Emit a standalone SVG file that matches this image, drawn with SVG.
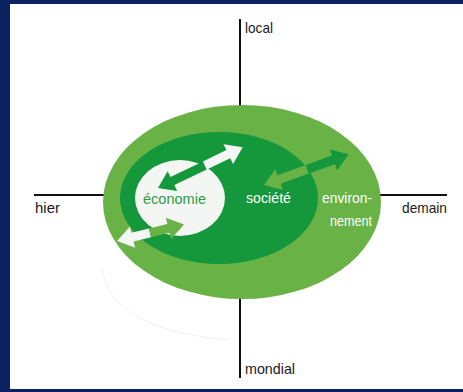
<svg xmlns="http://www.w3.org/2000/svg" width="463" height="392" viewBox="0 0 463 392">
<style>
.axis{stroke:#111;stroke-width:2;fill:none}
.lbl{font-family:"Liberation Sans",Arial,sans-serif;font-size:15px;fill:#1a1a1a}
.in{font-family:"Liberation Sans",Arial,sans-serif;font-size:15px}
.lg{fill:#69b246}
.dg{fill:#15973b}
.wh{fill:#f3f6f3}
</style>
<rect x="0" y="0" width="463" height="392" fill="#fff"/>
<g id="frame" fill="#0a2260">
<rect x="0" y="0" width="463" height="4"/>
<rect x="0" y="0" width="10" height="392"/>
<rect x="0" y="389" width="463" height="3"/>
</g>
<g id="axes">
<line class="axis" x1="240" y1="19" x2="240" y2="378"/>
<line class="axis" x1="34" y1="195" x2="447" y2="195"/>
</g>
<path d="M102,268 Q110,330 230,340" fill="none" stroke="#f0f0f0" stroke-width="1"/>
<g id="environnement">
<ellipse class="lg" cx="242" cy="202" rx="139" ry="97"/>
</g>
<g id="societe">
<ellipse class="dg" cx="219" cy="198" rx="99" ry="66"/>
</g>
<g id="economie">
<ellipse class="wh" cx="180" cy="198" rx="45" ry="38"/>
</g>
<g id="connectors">
<g transform="translate(158,188) rotate(-25.7)">
<polygon class="dg" points="0,0 16,-11 16,-4.5 52,-4.5 52,4.5 16,4.5 16,11"/>
<polygon class="wh" points="52,-4.5 78,-4.5 78,-11 94,0 78,11 78,4.5 52,4.5"/>
</g>
<g transform="translate(117,241) rotate(-13.8)">
<polygon class="wh" points="0,0 16,-11 16,-4.5 34,-4.5 34,4.5 16,4.5 16,11"/>
<polygon class="lg" points="34,-4.5 53,-4.5 53,-11 69,0 53,11 53,4.5 34,4.5"/>
</g>
<g transform="translate(264,185) rotate(-19.9)">
<polygon class="lg" points="0,0 16,-11 16,-4.5 46,-4.5 46,4.5 16,4.5 16,11"/>
<polygon class="dg" points="46,-4.5 74,-4.5 74,-11 90,0 74,11 74,4.5 46,4.5"/>
</g>
</g>
<g id="labels">
<text class="lbl" x="245" y="33" textLength="28" lengthAdjust="spacingAndGlyphs">local</text>
<text class="lbl" x="245" y="374" textLength="50" lengthAdjust="spacingAndGlyphs">mondial</text>
<text class="lbl" x="35" y="213" textLength="25" lengthAdjust="spacingAndGlyphs">hier</text>
<text class="lbl" x="402" y="213" textLength="45" lengthAdjust="spacingAndGlyphs">demain</text>
<text class="in" x="143" y="204" fill="#2f9e45" textLength="63" lengthAdjust="spacingAndGlyphs">économie</text>
<text class="in" x="246" y="203" fill="#fff" textLength="45" lengthAdjust="spacingAndGlyphs">société</text>
<text class="in" x="322" y="203" fill="#fff" textLength="50" lengthAdjust="spacingAndGlyphs">environ-</text>
<text class="in" x="330" y="226" fill="#fff" textLength="42" lengthAdjust="spacingAndGlyphs">nement</text>
</g>
</svg>
